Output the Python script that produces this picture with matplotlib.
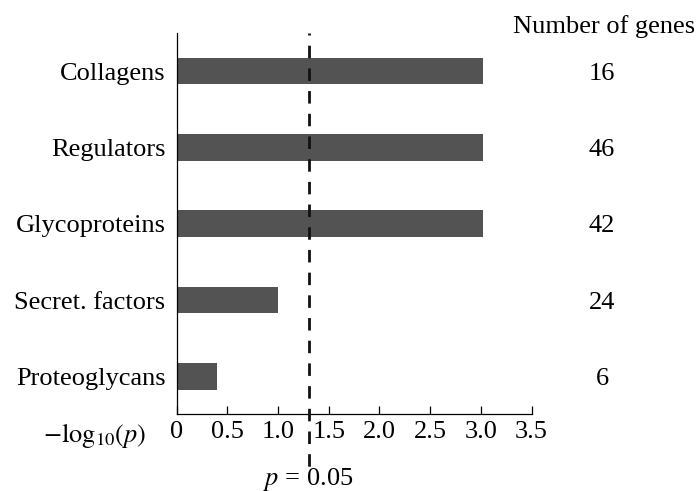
import numpy as np
import matplotlib
matplotlib.use("Agg")
import matplotlib.pyplot as plt
import matplotlib.transforms as mtransforms

categories = ["Proteoglycans", "Secret. factors", "Glycoproteins", "Regulators", "Collagens"]
neg_log_p = [0.40, 1.00, 3.02, 3.02, 3.02]
n_genes = [6, 24, 42, 46, 16]
xticks = [0, 0.5, 1.0, 1.5, 2.0, 2.5, 3.0, 3.5]
xtick_labels = ["0", "0.5", "1.0", "1.5", "2.0", "2.5", "3.0", "3.5"]
p_threshold = 0.05

plt.rcParams["font.family"] = ["Liberation Serif", "DejaVu Serif"]
plt.rcParams["mathtext.fontset"] = "stix"

FS = 19
fig = plt.figure(figsize=(6.97, 4.91), dpi=100)
ax = fig.add_axes([0.2534, 0.1568, 0.5092, 0.776])

y = np.arange(len(categories))
ax.barh(y, neg_log_p, height=0.35, color="#535353", edgecolor="none", zorder=2)

ax.set_xlim(0, 3.5)
ax.set_ylim(-0.494, 4.5)
ax.set_xticks(xticks)
ax.set_xticklabels(xtick_labels, fontsize=FS)
ax.set_yticks(y)
ax.set_yticklabels(categories, fontsize=FS)
ax.tick_params(axis="x", direction="in", length=6, width=0.9, pad=5)
ax.tick_params(axis="y", length=0, pad=8)
for s in ["top", "right"]:
    ax.spines[s].set_visible(False)
for s in ["left", "bottom"]:
    ax.spines[s].set_linewidth(0.9)

thr = -np.log10(p_threshold)
trans = mtransforms.blended_transform_factory(ax.transData, ax.transAxes)
ax.plot([thr, thr], [1.0, -0.144], transform=trans, color="#111111", lw=2,
        linestyle=(3.78, (4.5, 3.67)), solid_capstyle="butt", dash_capstyle="butt",
        clip_on=False, zorder=5)

# number of genes column
fig.text(0.997, 1 - 33 / 491, "Number of genes", ha="right", va="baseline", fontsize=FS)
trans_num = mtransforms.blended_transform_factory(fig.transFigure, ax.transData)
for yi, n in zip(y, n_genes):
    ax.text(602 / 697, yi, str(n), transform=trans_num, ha="center", va="center_baseline", fontsize=FS)

# x axis label on the left of tick labels
fig.text(95 / 697, 1 - 442 / 491, r"$-\mathrm{log}_{10}(p)$", ha="center", va="baseline", fontsize=FS)

# threshold label
trans_p = mtransforms.blended_transform_factory(ax.transData, fig.transFigure)
ax.text(thr, 1 - 485 / 491, r"$p$ = 0.05", transform=trans_p, ha="center", va="baseline", fontsize=FS)

fig.savefig("out.png", dpi=100)
